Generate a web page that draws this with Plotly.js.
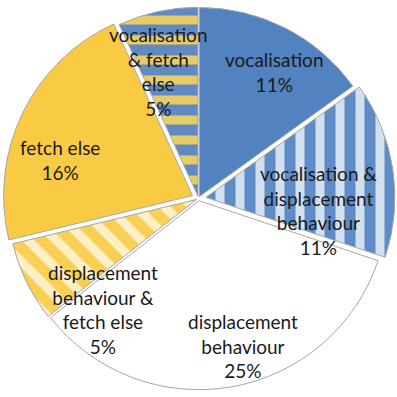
<!DOCTYPE html>
<html>
<head>
<meta charset="utf-8">
<script src="https://cdn.plot.ly/plotly-3.0.1.min.js"></script>
<style>html,body{margin:0;padding:0;background:#fff;}#chart{width:397px;height:397px;}</style>
</head>
<body>
<div id="chart"></div>
<script>
const categories = [
  "vocalisation",
  "vocalisation &<br>displacement<br>behaviour",
  "displacement<br>behaviour",
  "displacement<br>behaviour &<br>fetch else",
  "fetch else",
  "vocalisation<br>& fetch<br>else"
];
const values = [11, 11, 25, 5, 16, 5];
const percentLabels = ["11%", "11%", "25%", "5%", "16%", "5%"];

// label centres (pixels in the 397x397 picture), placed by hand like the original
const labelPos = [[275, 71], [320, 211], [243, 347], [102, 311], [59, 160], [158, 70]];

const BLUE = "#5282c0";
const YELLOW = "#f9cb45";
const WHITE = "#ffffff";
const W = 397, H = 397;

const trace = {
  type: "pie",
  labels: categories,
  values: values,
  textinfo: "none",
  hoverinfo: "none",
  sort: false,
  direction: "clockwise",
  rotation: 0,
  pull: [0.012, 0.04, 0.012, 0.012, 0.035, 0.012],
  marker: {
    colors: [BLUE, "#d3e0f0", WHITE, "#fdf0c6", YELLOW, "#e6cc66"],
    line: {color: "#a6a6a6", width: 1},
    pattern: {
      shape: ["", "|", "", "\\", "", "-"],
      fgcolor: [BLUE, "#5f8cc6", WHITE, "#f9cf55", YELLOW, "#6189c2"],
      bgcolor: [BLUE, "#d3e0f0", WHITE, "#fdf0c6", YELLOW, "#e6cc66"],
      size: 20,
      solidity: 0.55,
      fillmode: "replace"
    }
  },
  domain: {x: [0, 1], y: [0, 1]},
  showlegend: false
};

const annotations = categories.map((c, i) => ({
  text: c + "<br>" + percentLabels[i],
  xref: "paper", yref: "paper",
  x: labelPos[i][0] / W,
  y: 1 - labelPos[i][1] / H,
  xanchor: "center", yanchor: "middle",
  showarrow: false,
  align: "center",
  font: {family: "Lato, 'Open Sans', sans-serif", size: 19, color: "#1a1a1a"}
}));

const layout = {
  width: W,
  height: H,
  margin: {l: 2, r: 2, t: 2, b: 2},
  paper_bgcolor: "#ffffff",
  showlegend: false,
  annotations: annotations
};

Plotly.newPlot("chart", [trace], layout, {displayModeBar: false, staticPlot: true});
</script>
</body>
</html>
